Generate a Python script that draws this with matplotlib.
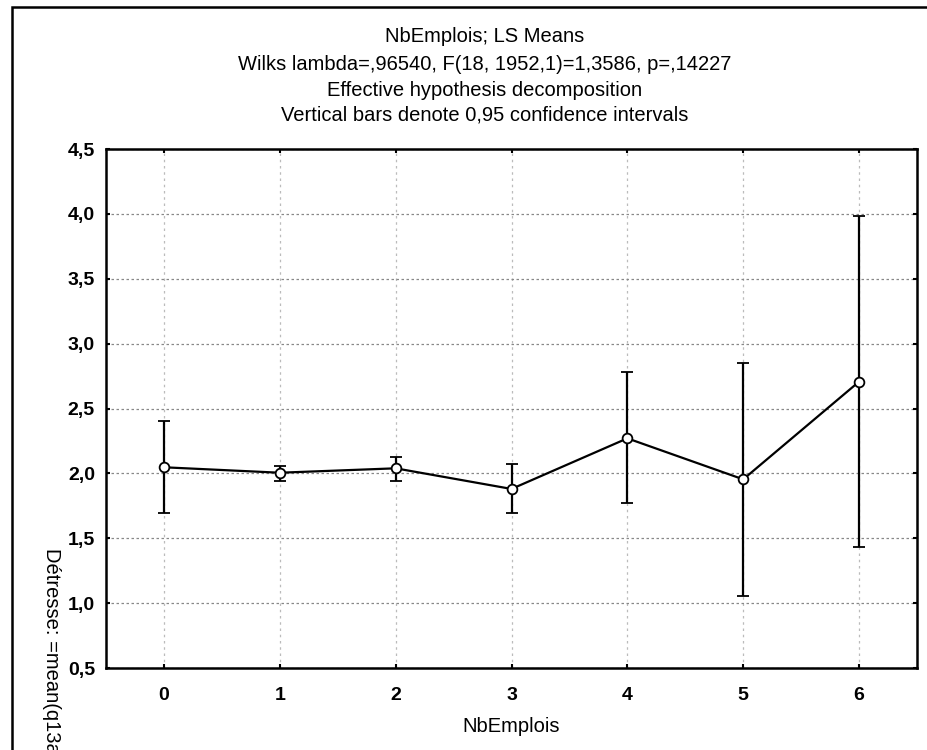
import matplotlib
matplotlib.use('Agg')
import matplotlib.pyplot as plt
from matplotlib.patches import Rectangle
from matplotlib.ticker import FuncFormatter

# LS means of Detresse by number of jobs, with 0,95 confidence limits
nb_emplois = [0, 1, 2, 3, 4, 5, 6]
means = [2.047, 2.005, 2.039, 1.880, 2.270, 1.954, 2.707]
ci_low = [1.697, 1.941, 1.941, 1.692, 1.769, 1.055, 1.435]
ci_high = [2.404, 2.057, 2.124, 2.072, 2.780, 2.853, 3.986]

title_lines = [
    'NbEmplois; LS Means',
    'Wilks lambda=,96540, F(18, 1952,1)=1,3586, p=,14227',
    'Effective hypothesis decomposition',
    'Vertical bars denote 0,95 confidence intervals',
]

plt.rcParams['font.family'] = ['Liberation Sans', 'DejaVu Sans']

W, H = 927, 750
fig = plt.figure(figsize=(W / 100, H / 100), dpi=100)

# plot area in pixels: left 106, right 917, top 149, bottom 668
ax = fig.add_axes([106 / W, 1 - 668 / H, (917 - 106) / W, (668 - 149) / H])

err = [[m - lo for m, lo in zip(means, ci_low)],
       [hi - m for m, hi in zip(means, ci_high)]]
ax.errorbar(nb_emplois, means, yerr=err, color='black', lw=1.6,
            elinewidth=1.6, capsize=4.5, capthick=1.6,
            marker='o', markersize=7, markerfacecolor='white',
            markeredgecolor='black', markeredgewidth=1.3, zorder=3)

ax.set_xlim(-0.5, 6.5)
ax.set_ylim(0.5, 4.5)
ax.set_xticks(nb_emplois)
ax.set_yticks([0.5, 1.0, 1.5, 2.0, 2.5, 3.0, 3.5, 4.0, 4.5])
ax.yaxis.set_major_formatter(FuncFormatter(lambda v, p: f'{v:.1f}'.replace('.', ',')))

ax.grid(True, axis='y', linestyle=(0, (2, 2)), color='#888888', lw=0.9)
ax.grid(True, axis='x', linestyle=(0, (2, 3)), color='#bbbbbb', lw=0.9)
ax.set_axisbelow(True)

ax.tick_params(direction='in', length=3, width=1.5, labelsize=14, pad=8,
               right=True, top=True)
ax.tick_params(axis='x', pad=14)
for lab in ax.get_xticklabels() + ax.get_yticklabels():
    lab.set_fontweight('bold')
for s in ax.spines.values():
    s.set_linewidth(1.8)

ax.set_xlabel('NbEmplois', fontsize=14.5, labelpad=9)

# rotated y label, clipped by the bottom of the picture as in the original
fig.text(51 / W, 1 - 548 / H, 'Détresse: =mean(q13a:q13k)', rotation=270,
         ha='center', va='top', fontsize=14.5)

title_y = [37, 65, 90, 115]
for txt, yp in zip(title_lines, title_y):
    fig.text(485 / W, 1 - yp / H, txt, ha='center', va='center', fontsize=14.5)

# outer frame of the exported graph
fig.patches.append(Rectangle((12 / W, -0.05), 1.0, 1 - 7 / H + 0.05,
                             transform=fig.transFigure, fill=False,
                             edgecolor='black', lw=1.8, clip_on=False))

fig.savefig('out.png', dpi=100)
